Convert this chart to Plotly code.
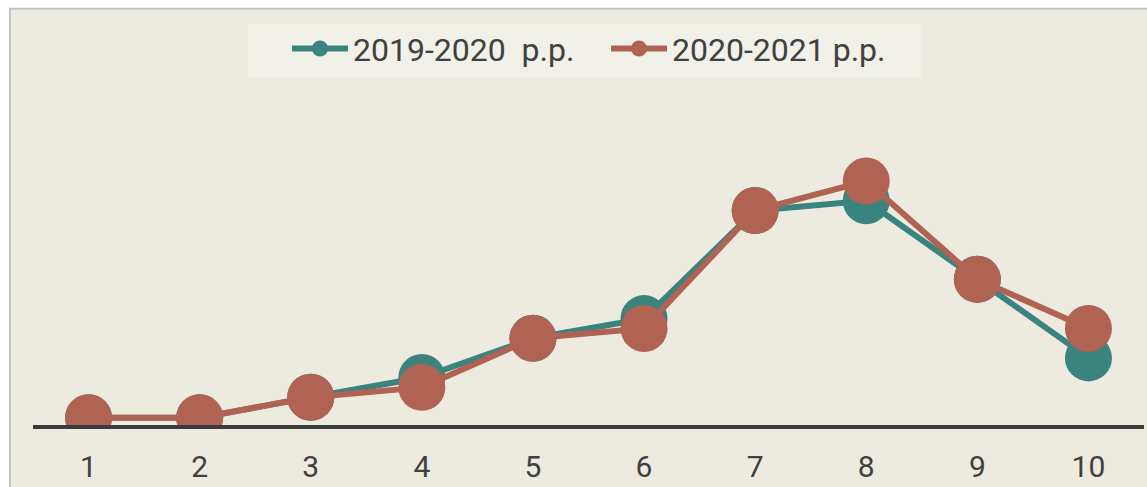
import plotly.graph_objects as go

grades = [1, 2, 3, 4, 5, 6, 7, 8, 9, 10]
tick_labels = ["1", "2", "3", "4", "5", "6", "7", "8", "9", "10"]
series_2019 = [0.9, 0.9, 3.0, 5.0, 9.0, 11.0, 22.0, 23.0, 15.0, 7.0]
series_2020 = [0.9, 0.9, 3.0, 4.0, 9.0, 10.0, 22.0, 25.0, 15.0, 10.0]
name_2019 = "2019-2020\u00a0 p.p."
name_2020 = "2020-2021 p.p."

TEAL = "#3A837E"
RED = "#B06353"
BG = "#EDEBE0"
LEG_BG = "#F1F0E9"
TXT = "#404040"

W, H = 1147, 487
ML, MR, MT, MB = 33, 3, 90, 56
PW = W - ML - MR
PH = H - MT - MB
PX_PER_UNIT = 10.0


def px_x(p):
    return (p - ML) / PW


def px_y(p):
    return (H - MB - p) / PH


fig = go.Figure()
fig.add_trace(go.Scatter(
    x=grades, y=series_2019, name=name_2019, mode="lines+markers",
    line=dict(color=TEAL, width=6), marker=dict(color=TEAL, size=47),
))
fig.add_trace(go.Scatter(
    x=grades, y=series_2020, name=name_2020, mode="lines+markers",
    line=dict(color=RED, width=6), marker=dict(color=RED, size=47),
))

fig.update_layout(
    width=W, height=H,
    margin=dict(l=ML, r=MR, t=MT, b=MB, pad=0),
    paper_bgcolor="white",
    plot_bgcolor="rgba(0,0,0,0)",
    font=dict(family="Roboto", color=TXT),
    showlegend=True,
    legend=dict(
        orientation="h", x=px_x(287), xanchor="left", y=px_y(20), yanchor="top",
        bgcolor="rgba(0,0,0,0)", font=dict(size=32, color=TXT),
        itemwidth=56, entrywidth=248, entrywidthmode="pixels",
    ),
    xaxis=dict(
        range=[0.5, 10.5], tickmode="array", tickvals=grades, ticktext=tick_labels,
        showgrid=False, zeroline=False, showline=True, linecolor="#3A3A3A", linewidth=4,
        ticks="", ticklabelstandoff=12, tickfont=dict(size=30, color=TXT), fixedrange=True,
    ),
    yaxis=dict(
        range=[0.17, 0.17 + PH / PX_PER_UNIT], showgrid=False, zeroline=False,
        showticklabels=False, showline=False, ticks="", fixedrange=True,
    ),
    shapes=[
        dict(type="rect", xref="paper", yref="paper", layer="below",
             x0=px_x(10), x1=px_x(W + 20), y0=px_y(H + 20), y1=px_y(7.3),
             fillcolor=BG, line=dict(color="#C2C2C2", width=2)),
        dict(type="rect", xref="paper", yref="paper", layer="below",
             x0=px_x(248), x1=px_x(921), y0=px_y(77), y1=px_y(23),
             fillcolor=LEG_BG, line=dict(width=0)),
    ],
)

fig.write_html(
    "out.html",
    config={"displayModeBar": False, "staticPlot": True},
    post_script="document.body.style.margin='0';document.documentElement.style.overflow='hidden';",
)
